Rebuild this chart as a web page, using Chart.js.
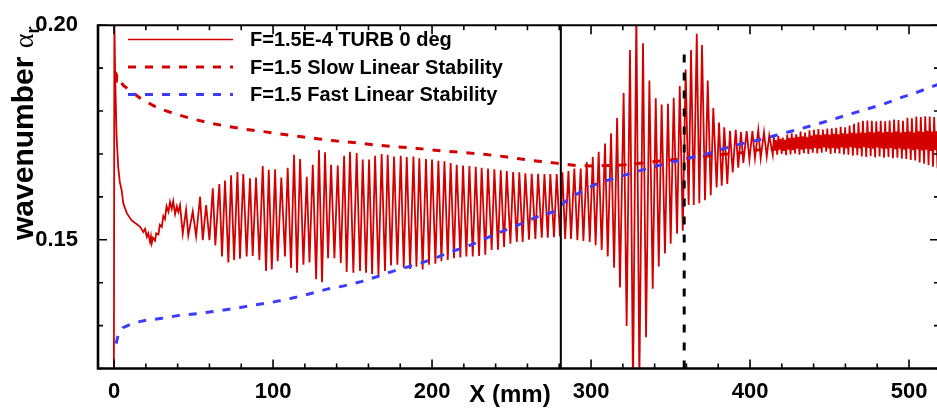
<!DOCTYPE html>
<html>
<head>
<meta charset="utf-8">
<script src="https://cdn.jsdelivr.net/npm/chart.js@4.4.0/dist/chart.umd.min.js"></script>
<style>
  html, body { margin: 0; padding: 0; background: #fff; }
  #wrap { width: 937px; height: 408px; position: relative; }
</style>
</head>
<body>
<div id="wrap"><canvas id="chart"></canvas></div>
<script>
// axis ranges and tick labels
const xMin = -10.1, xMax = 517.6;
const yMin = 0.12, yMax = 0.20;
const xTickLabels = [0, 100, 200, 300, 400, 500];
const yTickLabels = [0.15, 0.20];

const labels = ['F=1.5E-4 TURB 0 deg', 'F=1.5 Slow Linear Stability', 'F=1.5 Fast Linear Stability'];

// TURB curve, [x mm, alpha_r]
const turbStart = [[-0.1,0.1195],[0.2,0.2005],[0.7,0.1880],[1.6,0.1740],[2.6,0.1670],[3.6,0.1635],[4.8,0.1615],
  [5.8,0.1585],[8.0,0.1562],[11.1,0.1545],[14.3,0.1536],[16.4,0.1530],[18.4,0.1518],[19.5,0.1525],[20.6,0.1507],
  [21.5,0.1515],[22.6,0.1495],[23.2,0.1508],[23.7,0.1492],[24.5,0.1505],[25.8,0.1498],[26.5,0.1515],[27.9,0.1512],
  [28.8,0.1535],[30.0,0.1530],[31.0,0.1555],[32.0,0.1548],[33.0,0.1578],[34.2,0.1565],[35.2,0.1588],[36.3,0.1572],
  [37.2,0.1590],[38.4,0.1560],[39.5,0.1578],[40.4,0.1565]];
const turbGrowth = [[41.5,0.1581],[43.2,0.1514],[45.3,0.1570],[46.7,0.1510],[49.5,0.1566],[51.6,0.1508],[54.1,0.1600],
  [55.8,0.1499],[57.9,0.1581],[60.0,0.1499],[62.1,0.1620],[63.7,0.1487],[66.2,0.1630],[67.9,0.1461],[69.8,0.1638],
  [71.9,0.1447],[73.6,0.1650],[75.5,0.1453],[77.6,0.1658],[79.2,0.1456],[81.3,0.1653],[83.4,0.1461],[85.5,0.1643],
  [87.2,0.1462],[89.3,0.1645],[91.4,0.1453],[93.5,0.1672],[95.6,0.1427],[97.3,0.1663],[99.2,0.1431],[101.3,0.1664],
  [102.9,0.1450],[105.2,0.1645],[107.5,0.1461],[109.2,0.1668],[111.3,0.1434],[113.2,0.1698],[115.1,0.1423],
  [117.0,0.1688],[119.1,0.1442],[121.2,0.1647],[122.9,0.1447],[125.0,0.1675],[127.1,0.1408],[128.9,0.1709],
  [130.8,0.1401],[132.7,0.1704],[134.6,0.1457],[136.5,0.1675],[138.6,0.1457],[140.7,0.1673],[142.6,0.1446],
  [144.7,0.1696],[146.3,0.1425],[148.4,0.1705],[150.5,0.1423],[152.6,0.1702],[154.7,0.1427],[156.4,0.1687],
  [158.5,0.1423],[160.4,0.1687],[162.3,0.1420]];
const turbSteady = [[164.2,0.1696],[166.3,0.1416],[168.3,0.1700],[170.4,0.1427],[172.1,0.1698],[174.2,0.1440],
  [176.1,0.1694],[178.2,0.1442],[180.3,0.1696],[182.2,0.1435],[184.1,0.1693],[186.2,0.1432],[188.3,0.1694],
  [190.2,0.1437],[192.0,0.1690],[194.1,0.1431],[196.2,0.1688],[198.1,0.1442],[200.0,0.1687],[202.1,0.1444],
  [204.0,0.1684],[205.9,0.1450],[207.8,0.1683],[209.9,0.1453],[211.7,0.1679],[213.8,0.1457],[215.5,0.1675],
  [217.8,0.1459],[219.5,0.1673],[221.6,0.1461],[223.5,0.1672],[225.6,0.1461],[227.5,0.1670],[229.6,0.1462],
  [231.2,0.1668],[233.5,0.1465],[235.2,0.1666],[237.5,0.1476],[239.2,0.1664],[241.5,0.1477],[243.2,0.1662],
  [245.3,0.1483],[247.0,0.1660],[249.3,0.1491],[251.0,0.1658],[253.3,0.1495],[254.9,0.1657],[257.0,0.1495],
  [258.7,0.1655],[261.0,0.1500],[262.7,0.1654],[265.0,0.1502],[266.7,0.1654],[269.0,0.1505],[270.7,0.1653],
  [272.8,0.1505],[274.4,0.1653],[276.7,0.1506],[278.4,0.1653],[280.5,0.1508]];
const turbBurst = [[282.0,0.1657],[283.7,0.1502],[285.8,0.1660],[287.4,0.1502],[289.5,0.1666],[291.4,0.1499],
  [293.5,0.1666],[295.2,0.1497],[297.3,0.1681],[299.2,0.1495],[301.1,0.1693],[302.9,0.1487],[304.8,0.1705],
  [306.7,0.1476],[308.8,0.1724],[310.5,0.1461],[312.6,0.1748],[314.5,0.1435],[316.4,0.1784],[318.2,0.1389],
  [320.5,0.1842],[322.4,0.1299],[324.5,0.1942],[326.4,0.1150],[328.5,0.2030],[330.4,0.1170],[332.7,0.1958],
  [334.6,0.1273],[336.7,0.1871],[338.8,0.1386],[340.7,0.1830],[342.6,0.1438],[344.4,0.1815],[346.5,0.1468],
  [348.4,0.1817],[350.1,0.1491],[352.0,0.1831],[354.1,0.1514],[355.8,0.1858],[357.7,0.1521],[359.5,0.1897],
  [361.4,0.1581],[362.9,0.1942],[364.6,0.1581],[366.5,0.1980],[368.1,0.1585],[369.8,0.1954],[371.7,0.1592]];
const turbDecay = [[373.4,0.1871],[375.3,0.1604],[376.9,0.1807],[379.0,0.1622],[380.5,0.1773],[382.2,0.1626],
  [383.8,0.1762],[385.7,0.1630],[387.4,0.1754],[389.1,0.1657],[391.0,0.1756],[392.6,0.1668],[394.3,0.1751],
  [395.8,0.1679],[397.9,0.1753],[399.6,0.1687],[401.5,0.1753],[403.1,0.1690],[405.2,0.1756],[406.7,0.1690],
  [408.8,0.1751],[410.5,0.1694],[412.1,0.1743],[414.3,0.1698]];
const turbBand = [
  [415.0,.1740],[415.7,.1708],[416.4,.1732],[417.1,.1698],[417.8,.1742],[418.5,.1710],[419.2,.1735],[419.9,.1700],
  [420.6,.1738],[421.3,.1707],[422.0,.1733],[422.7,.1697],[423.4,.1745],[424.1,.1711],[424.8,.1737],[425.5,.1699],
  [426.2,.1748],[426.9,.1709],[427.6,.1738],[428.3,.1701],[429.0,.1746],[429.7,.1712],[430.4,.1740],[431.1,.1698],
  [431.8,.1752],[432.5,.1710],[433.2,.1741],[433.9,.1702],[434.6,.1750],[435.3,.1713],[436.0,.1739],[436.7,.1700],
  [437.4,.1755],[438.1,.1711],[438.8,.1743],[439.5,.1703],[440.2,.1756],[440.9,.1714],[441.6,.1745],[442.3,.1701],
  [443.0,.1758],[443.7,.1712],[444.4,.1744],[445.1,.1703],[445.8,.1757],[446.5,.1715],[447.2,.1746],[447.9,.1705],
  [448.6,.1759],[449.3,.1713],[450.0,.1745],[450.7,.1700],[451.4,.1760],[452.1,.1714],[452.8,.1747],[453.5,.1702],
  [454.2,.1761],[454.9,.1712],[455.6,.1746],[456.3,.1701],[457.0,.1763],[457.7,.1715],[458.4,.1748],[459.1,.1699],
  [459.8,.1762],[460.5,.1713],[461.2,.1747],[461.9,.1698],[462.6,.1766],[463.3,.1716],[464.0,.1749],[464.7,.1696],
  [465.4,.1770],[466.1,.1714],[466.8,.1748],[467.5,.1697],[468.2,.1774],[468.9,.1713],[469.6,.1750],[470.3,.1694],
  [471.0,.1777],[471.7,.1716],[472.4,.1749],[473.1,.1693],[473.8,.1778],[474.5,.1714],[475.2,.1751],[475.9,.1695],
  [476.6,.1777],[477.3,.1712],[478.0,.1750],[478.7,.1692],[479.4,.1776],[480.1,.1715],[480.8,.1752],[481.5,.1694],
  [482.2,.1777],[482.9,.1713],[483.6,.1750],[484.3,.1691],[485.0,.1776],[485.7,.1712],[486.4,.1751],[487.1,.1693],
  [487.8,.1778],[488.5,.1714],[489.2,.1750],[489.9,.1690],[490.6,.1780],[491.3,.1711],[492.0,.1752],[492.7,.1691],
  [493.4,.1779],[494.1,.1713],[494.8,.1750],[495.5,.1689],[496.2,.1777],[496.9,.1710],[497.6,.1751],[498.3,.1688],
  [499.0,.1784],[499.7,.1712],[500.4,.1752],[501.1,.1686],[501.8,.1783],[502.5,.1709],[503.2,.1750],[503.9,.1685],
  [504.6,.1787],[505.3,.1711],[506.0,.1753],[506.7,.1680],[507.4,.1786],[508.1,.1708],[508.8,.1751],[509.5,.1677],
  [510.2,.1788],[510.9,.1710],[511.6,.1754],[512.3,.1674],[513.0,.1787],[513.7,.1707],[514.4,.1752],[515.1,.1670],
  [515.8,.1786],[516.5,.1709],[517.2,.1753],[517.9,.1667],[518.6,.1785]];

// linear stability curves
const slowX = [1.4, 1.7, 5.7, 16.4, 27, 37, 48, 60, 72, 83, 94, 106, 118, 129, 140, 152, 164, 175.5, 187, 198, 210,
  221, 233, 245, 256, 267, 279, 291, 302, 314, 326, 337, 348, 360, 370, 383, 395, 406, 418, 430, 440];
const slowY = [0.1866, 0.1884, 0.1860, 0.1830, 0.1808, 0.1795, 0.1783, 0.1772, 0.1764, 0.1757, 0.1752, 0.1746, 0.1740,
  0.1735, 0.1730, 0.1726, 0.1721, 0.1717, 0.1714, 0.1710, 0.1706, 0.1703, 0.1699, 0.1694, 0.1688, 0.1683, 0.1678,
  0.1673, 0.1672, 0.1673, 0.1676, 0.1681, 0.1685, 0.1690, 0.1694, 0.1699, 0.1703, 0.1710, 0.1712, 0.1715, 0.1718];
const fastX = [1.3, 2.5, 5.7, 12, 19.5, 30, 41.5, 53, 65, 76, 87, 99, 111, 122, 134, 144, 156, 167, 178, 189, 200.6,
  211, 222, 232, 243, 254, 265, 277, 285, 295, 304, 316, 328, 338, 350, 361, 372, 383, 395, 406, 417, 428, 440, 450,
  462, 474, 484, 494, 506, 516, 520];
const fastY = [0.1258, 0.1277, 0.1295, 0.1306, 0.1312, 0.1317, 0.1324, 0.1328, 0.1334, 0.1340, 0.1347, 0.1354, 0.1363,
  0.1373, 0.1385, 0.1392, 0.1403, 0.1416, 0.1430, 0.1441, 0.1455, 0.1471, 0.1484, 0.1500, 0.1518, 0.1534, 0.1552,
  0.1566, 0.1593, 0.1615, 0.1631, 0.1645, 0.1658, 0.1669, 0.1680, 0.1690, 0.1699, 0.1712, 0.1724, 0.1733, 0.1744,
  0.1755, 0.1767, 0.1778, 0.1792, 0.1805, 0.1816, 0.1830, 0.1845, 0.1859, 0.1864];

// marker lines
const markSolidX = [281, 281], markSolidY = [0.12, 0.20];
const markDashX = [358.6, 358.6], markDashY = [0.12, 0.1944];

const RED = '#d40000', BLUE = '#3c3cff';
const FONT = '"Liberation Sans", Arial, sans-serif';

const pts = arr => arr.map(p => ({x: p[0], y: p[1]}));
const xy = (xs, ys) => xs.map((x, i) => ({x: x, y: ys[i]}));

const turb = [].concat(turbStart, turbGrowth, turbSteady, turbBurst, turbDecay, turbBand);

const frame = {
  id: 'frame',
  afterDraw(chart) {
    const ctx = chart.ctx, a = chart.chartArea, sx = chart.scales.x, sy = chart.scales.y;
    ctx.save();
    ctx.strokeStyle = '#000';
    ctx.lineWidth = 1.6;
    ctx.beginPath();
    for (let v = 0; v <= 500; v += 20) {
      const px = sx.getPixelForValue(v);
      const len = v % 100 === 0 ? 9 : 5;
      ctx.moveTo(px, a.bottom); ctx.lineTo(px, a.bottom - len);
      ctx.moveTo(px, a.top); ctx.lineTo(px, a.top + len);
    }
    // right frame sits just past the picture edge, only its ticks show
    for (let i = 12; i <= 20; i++) {
      const py = sy.getPixelForValue(i / 100);
      const len = i % 5 === 0 ? 9 : 5;
      ctx.moveTo(a.left, py); ctx.lineTo(a.left + len, py);
      ctx.moveTo(a.right + 2, py); ctx.lineTo(a.right + 2 - len, py);
    }
    ctx.stroke();

    ctx.lineWidth = 2.6;
    ctx.beginPath();
    ctx.moveTo(a.left, a.top - 1); ctx.lineTo(a.left, a.bottom + 1.3);
    ctx.moveTo(a.left - 1.3, a.bottom); ctx.lineTo(a.right, a.bottom);
    ctx.stroke();
    ctx.lineWidth = 2;
    ctx.beginPath();
    ctx.moveTo(a.left, a.top); ctx.lineTo(a.right, a.top);
    ctx.stroke();

    // legend
    chart.data.datasets.slice(0, 3).forEach((ds, i) => {
      const yy = 39.5 + i * 27.5;
      ctx.strokeStyle = ds.borderColor;
      ctx.lineWidth = i === 0 ? 1.3 : ds.borderWidth;
      ctx.setLineDash(ds.borderDash || []);
      ctx.beginPath();
      ctx.moveTo(128, yy); ctx.lineTo(233, yy);
      ctx.stroke();
      ctx.setLineDash([]);
      ctx.fillStyle = '#000';
      ctx.font = 'bold 20px ' + FONT;
      ctx.textAlign = 'left';
      ctx.textBaseline = 'middle';
      ctx.fillText(ds.label, 250, yy + 1);
    });

    // axis titles
    ctx.fillStyle = '#000';
    ctx.font = 'bold 24px ' + FONT;
    ctx.textAlign = 'center';
    ctx.textBaseline = 'middle';
    ctx.fillText('X (mm)', 510, 395);

    ctx.save();
    ctx.translate(33, 240);
    ctx.rotate(-Math.PI / 2);
    ctx.textAlign = 'left';
    ctx.textBaseline = 'alphabetic';
    ctx.font = 'bold 30px ' + FONT;
    const t1 = 'wavenumber ';
    ctx.fillText(t1, 0, 0);
    let w = ctx.measureText(t1).width;
    ctx.font = '28px "Liberation Serif", serif';
    ctx.fillText('\u03b1', w, 0);
    w += ctx.measureText('\u03b1').width;
    ctx.font = 'bold 18px ' + FONT;
    ctx.fillText('r', w, 6);
    ctx.restore();
    ctx.restore();
  }
};

new Chart(document.getElementById('chart'), {
  type: 'line',
  data: {
    datasets: [
      { label: labels[0], data: pts(turb), borderColor: RED, borderWidth: 1.8, order: 4 },
      { label: labels[1], data: xy(slowX, slowY), borderColor: RED, borderWidth: 3, borderDash: [8, 9], order: 3 },
      { label: labels[2], data: xy(fastX, fastY), borderColor: BLUE, borderWidth: 3, borderDash: [8, 9], order: 2 },
      { label: 'marker', data: xy(markSolidX, markSolidY), borderColor: '#000', borderWidth: 2, order: 1 },
      { label: 'marker dashed', data: xy(markDashX, markDashY), borderColor: '#000', borderWidth: 3, borderDash: [8, 10], order: 0 }
    ]
  },
  options: {
    responsive: true,
    maintainAspectRatio: false,
    animation: false,
    devicePixelRatio: 1,
    events: [],
    layout: { padding: { top: 14.5, right: 0, bottom: 0, left: 0 } },
    elements: { point: { radius: 0 }, line: { tension: 0, fill: false } },
    datasets: { line: { clip: 0 } },
    plugins: { legend: { display: false }, tooltip: { enabled: false } },
    scales: {
      x: {
        type: 'linear', min: xMin, max: xMax,
        grid: { display: false }, border: { display: false },
        afterBuildTicks: s => { s.ticks = xTickLabels.map(v => ({ value: v })); },
        afterFit: s => { s.height = 39.5; },
        ticks: { color: '#000', font: { family: FONT, size: 22, weight: 'bold' }, padding: 2,
                 maxRotation: 0, autoSkip: false, callback: v => String(v) }
      },
      y: {
        type: 'linear', min: yMin, max: yMax,
        grid: { display: false }, border: { display: false },
        afterBuildTicks: s => { s.ticks = yTickLabels.map(v => ({ value: v })); },
        afterFit: s => { s.width = 98; },
        ticks: { color: '#000', font: { family: FONT, size: 22, weight: 'bold' }, padding: 12,
                 callback: v => Number(v).toFixed(2) }
      }
    }
  },
  plugins: [frame]
});
</script>
</body>
</html>
